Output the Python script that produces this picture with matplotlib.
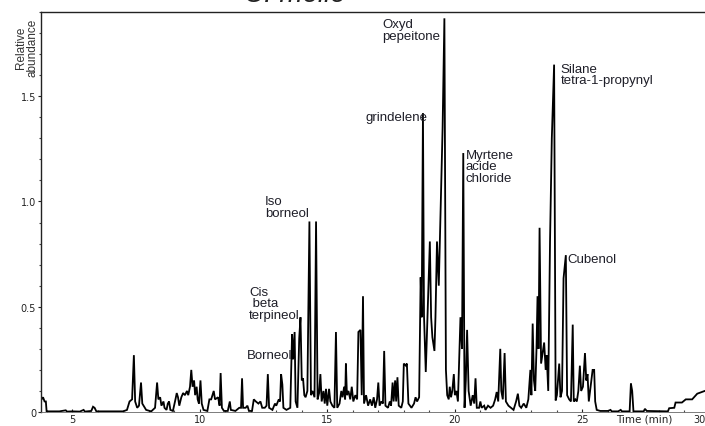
"""GC-MS chromatogram of the C. mollo essential oil with annotated peaks."""

import matplotlib

matplotlib.use("Agg")

import matplotlib.pyplot as plt  # noqa: E402
from matplotlib.ticker import MultipleLocator  # noqa: E402
from matplotlib.transforms import ScaledTranslation  # noqa: E402

# trace vertices (retention time in min, relative abundance)
TIME_EARLY = [
    3.80, 3.86, 3.92, 3.97, 4.00, 4.50, 4.75, 4.80, 5.00, 5.30, 5.45, 5.50,
    5.75, 5.82, 5.88, 5.95, 6.50, 7.00, 7.15, 7.25, 7.35, 7.42, 7.47, 7.55,
    7.62, 7.70, 7.75, 7.85, 7.90, 8.10, 8.25, 8.33, 8.38, 8.45, 8.50, 8.58,
    8.62, 8.70, 8.75, 8.80, 8.85, 8.95, 9.05, 9.10, 9.15, 9.20, 9.28, 9.35,
    9.42, 9.50, 9.55, 9.62, 9.67, 9.72, 9.78, 9.82, 9.88, 9.92, 9.97, 10.03,
    10.08, 10.15, 10.30, 10.38, 10.45, 10.55, 10.60, 10.72, 10.78, 10.82,
    10.87, 10.95, 11.10, 11.18, 11.22, 11.40, 11.55, 11.62, 11.66, 11.70,
    11.80, 11.87, 11.93, 12.05, 12.12, 12.20, 12.30, 12.38, 12.45, 12.55,
    12.62, 12.67, 12.72, 12.85,
]
ABUND_EARLY = [
    0.06, 0.07, 0.05, 0.05, 0.003, 0.003, 0.008, 0.002, 0.003, 0.002, 0.01,
    0.002, 0.005, 0.025, 0.02, 0.003, 0.003, 0.003, 0.01, 0.05, 0.06, 0.27,
    0.05, 0.02, 0.03, 0.14, 0.04, 0.02, 0.01, 0.003, 0.02, 0.14, 0.06, 0.07,
    0.03, 0.05, 0.02, 0.01, 0.04, 0.05, 0.01, 0.005, 0.06, 0.09, 0.07, 0.03,
    0.07, 0.09, 0.08, 0.10, 0.08, 0.12, 0.20, 0.12, 0.15, 0.08, 0.12, 0.06,
    0.04, 0.15, 0.04, 0.01, 0.005, 0.06, 0.06, 0.10, 0.06, 0.07, 0.03, 0.185,
    0.02, 0.005, 0.005, 0.05, 0.01, 0.005, 0.02, 0.02, 0.16, 0.02, 0.02, 0.03,
    0.005, 0.005, 0.06, 0.05, 0.04, 0.05, 0.02, 0.02, 0.03, 0.18, 0.02, 0.01,
]
TIME_MID = [
    12.95, 13.00, 13.10, 13.15, 13.19, 13.24, 13.28, 13.40, 13.55, 13.62,
    13.66, 13.72, 13.76, 13.83, 13.90, 13.95, 14.00, 14.05, 14.10, 14.15,
    14.22, 14.30, 14.36, 14.42, 14.50, 14.56, 14.62, 14.68, 14.73, 14.78,
    14.85, 14.90, 14.95, 15.00, 15.07, 15.12, 15.20, 15.28, 15.34, 15.39,
    15.48, 15.55, 15.60, 15.66, 15.70, 15.73, 15.77, 15.83, 15.90, 15.96,
    16.02, 16.10, 16.17, 16.22, 16.30, 16.35, 16.40, 16.44, 16.52, 16.60,
    16.68, 16.75, 16.82, 16.88, 16.95, 17.00, 17.05, 17.12, 17.18, 17.23,
    17.28, 17.38, 17.45, 17.50, 17.56, 17.60, 17.66, 17.70, 17.75, 17.80,
    17.90, 17.96, 18.00, 18.08, 18.12, 18.18, 18.30, 18.40, 18.46, 18.52,
]
ABUND_MID = [
    0.04, 0.03, 0.06, 0.05, 0.18, 0.13, 0.02, 0.01, 0.02, 0.37, 0.25, 0.38,
    0.05, 0.02, 0.35, 0.45, 0.15, 0.16, 0.08, 0.07, 0.10, 0.905, 0.08, 0.10,
    0.07, 0.905, 0.06, 0.09, 0.18, 0.05, 0.10, 0.04, 0.11, 0.03, 0.11, 0.05,
    0.03, 0.02, 0.38, 0.02, 0.04, 0.10, 0.07, 0.12, 0.06, 0.23, 0.08, 0.10,
    0.06, 0.12, 0.05, 0.08, 0.06, 0.38, 0.39, 0.08, 0.55, 0.04, 0.08, 0.03,
    0.06, 0.03, 0.07, 0.02, 0.06, 0.14, 0.03, 0.05, 0.04, 0.29, 0.03, 0.02,
    0.05, 0.03, 0.14, 0.05, 0.15, 0.05, 0.165, 0.03, 0.02, 0.05, 0.23, 0.22,
    0.23, 0.04, 0.02, 0.04, 0.07, 0.05,
]
TIME_LATE = [
    18.60, 18.66, 18.70, 18.75, 18.79, 18.86, 18.94, 19.02, 19.07, 19.12,
    19.20, 19.24, 19.30, 19.37, 19.45, 19.52, 19.59, 19.65, 19.70, 19.76,
    19.80, 19.85, 19.90, 19.96, 20.00, 20.06, 20.12, 20.22, 20.28, 20.33,
    20.38, 20.43, 20.48, 20.54, 20.62, 20.70, 20.76, 20.81, 20.86, 20.95,
    21.00, 21.05, 21.15, 21.20, 21.30, 21.40, 21.50, 21.58, 21.64, 21.70,
    21.78, 21.82, 21.88, 21.95, 22.00, 22.10, 22.20, 22.30, 22.40, 22.47,
    22.53, 22.60, 22.70, 22.80, 22.88, 22.96, 23.00, 23.05, 23.10, 23.15,
    23.20, 23.24, 23.28, 23.32, 23.38, 23.44, 23.50, 23.56, 23.60, 23.66,
    23.73, 23.80, 23.89, 23.95, 24.00, 24.09, 24.14, 24.20, 24.26, 24.35,
    24.40, 24.48, 24.55, 24.62, 24.66, 24.72, 24.78, 24.84, 24.90, 24.95,
    25.02, 25.10, 25.15, 25.20, 25.25, 25.32, 25.40, 25.46, 25.50, 25.56,
    25.70, 26.00, 26.10, 26.15, 26.40, 26.50, 26.55, 26.85, 26.90, 26.95,
    27.00, 27.40, 27.45, 27.52, 28.20, 28.35, 28.40, 28.60, 28.65, 28.90,
    29.05, 29.30, 29.50, 29.80, 30.00,
]
ABUND_LATE = [
    0.07, 0.64, 0.45, 1.42, 0.46, 0.19, 0.50, 0.81, 0.45, 0.355, 0.29, 0.45,
    0.81, 0.60, 1.00, 1.35, 1.87, 0.20, 0.08, 0.06, 0.12, 0.07, 0.10, 0.18,
    0.08, 0.10, 0.05, 0.45, 0.30, 1.23, 0.02, 0.15, 0.39, 0.10, 0.03, 0.08,
    0.04, 0.16, 0.02, 0.02, 0.05, 0.02, 0.03, 0.01, 0.03, 0.02, 0.03, 0.06,
    0.095, 0.05, 0.30, 0.10, 0.06, 0.28, 0.05, 0.03, 0.02, 0.01, 0.05, 0.087,
    0.03, 0.02, 0.04, 0.02, 0.06, 0.20, 0.08, 0.42, 0.15, 0.10, 0.30, 0.55,
    0.30, 0.875, 0.23, 0.28, 0.33, 0.20, 0.27, 0.10, 0.81, 1.30, 1.65, 0.055,
    0.08, 0.23, 0.07, 0.10, 0.635, 0.745, 0.08, 0.06, 0.05, 0.415, 0.05, 0.06,
    0.05, 0.10, 0.22, 0.10, 0.12, 0.28, 0.15, 0.18, 0.05, 0.12, 0.20, 0.20,
    0.05, 0.01, 0.005, 0.005, 0.01, 0.003, 0.003, 0.01, 0.003, 0.003, 0.135,
    0.10, 0.003, 0.003, 0.015, 0.005, 0.003, 0.003, 0.018, 0.02, 0.045, 0.045,
    0.06, 0.06, 0.087, 0.10, 0.11,
]

# peak annotations: label, anchor time (min), anchor abundance (top-left of text)
PEAK_LABELS = [
    "Iso\nborneol",
    "Cis\n beta\nterpineol",
    "Borneol",
    "grindelene",
    "Oxyd\npepeitone",
    "Myrtene\nacide\nchloride",
    "Silane\ntetra-1-propynyl",
    "Cubenol",
]
LABEL_TIME = [12.55, 11.93, 11.85, 16.50, 17.17, 20.42, 24.15, 24.42]
LABEL_ABUND = [1.03, 0.60, 0.30, 1.43, 1.87, 1.25, 1.66, 0.755]

X_TICKS = [5, 10, 15, 20, 25, 30]
Y_TICKS = [0, 0.5, 1.0, 1.5]
Y_TICK_LABELS = ["0", "0.5", "1.0", "1.5"]

LABEL_FONT = ["Liberation Sans Narrow", "Liberation Sans", "DejaVu Sans"]


def main() -> None:
    fig = plt.figure(figsize=(7.05, 4.27), dpi=100)
    ax = fig.add_axes((41 / 705, 14 / 427, 669 / 705, 400 / 427))

    times = TIME_EARLY + TIME_MID + TIME_LATE
    abund = ABUND_EARLY + ABUND_MID + ABUND_LATE
    ax.plot(times, abund, color="black", linewidth=1.3, solid_joinstyle="miter")

    ax.set_xlim(3.78, 30.0)
    ax.set_ylim(0, 1.90)
    ax.set_xticks(X_TICKS)
    ax.set_yticks(Y_TICKS)
    ax.set_yticklabels(Y_TICK_LABELS)
    ax.xaxis.set_minor_locator(MultipleLocator(1))
    ax.yaxis.set_minor_locator(MultipleLocator(0.1))
    ax.tick_params(axis="y", which="major", length=2.5, width=0.8,
                   labelsize=7, pad=1.0, colors="#222222")
    ax.tick_params(axis="x", which="major", direction="in", length=2.5,
                   width=0.8, labelsize=7, pad=1.5, colors="#222222")
    ax.tick_params(axis="y", which="minor", length=1.5, width=0.8,
                   colors="#444444")
    ax.tick_params(axis="x", which="minor", direction="in", length=1.5,
                   width=0.8, colors="#444444")
    for side in ("left", "top"):
        ax.spines[side].set_linewidth(1.0)
        ax.spines[side].set_color("#222222")
    ax.spines["bottom"].set_linewidth(0.6)
    ax.spines["bottom"].set_color("#666666")
    ax.spines["right"].set_visible(False)

    # the last x label sits right at the figure edge: pull it inside
    last_label = ax.get_xticklabels()[-1]
    last_label.set_transform(
        last_label.get_transform()
        + ScaledTranslation(-11 / 100, 0, fig.dpi_scale_trans)
    )

    for label, t, a in zip(PEAK_LABELS, LABEL_TIME, LABEL_ABUND, strict=True):
        ax.text(t, a, label, ha="left", va="top", fontsize=9.5,
                family=LABEL_FONT, color="#1e1e28", linespacing=0.95)

    fig.text(27 / 705, 1 - 48 / 427, "Relative\nabundance", rotation=90,
             ha="center", va="center", fontsize=8.5, family=LABEL_FONT,
             color="#333333", linespacing=0.95)
    fig.text(644 / 705, 1 - 420 / 427, "Time (min)", ha="center",
             va="center", fontsize=7.5, color="#222222")
    fig.text(295 / 705, 1 - 2 / 427, "C. mollo", ha="center", va="baseline",
             fontsize=20, style="italic", family=["Liberation Sans"],
             color="#222222")

    fig.savefig("out.png", dpi=100, facecolor="white")
    plt.close(fig)


if __name__ == "__main__":
    main()
